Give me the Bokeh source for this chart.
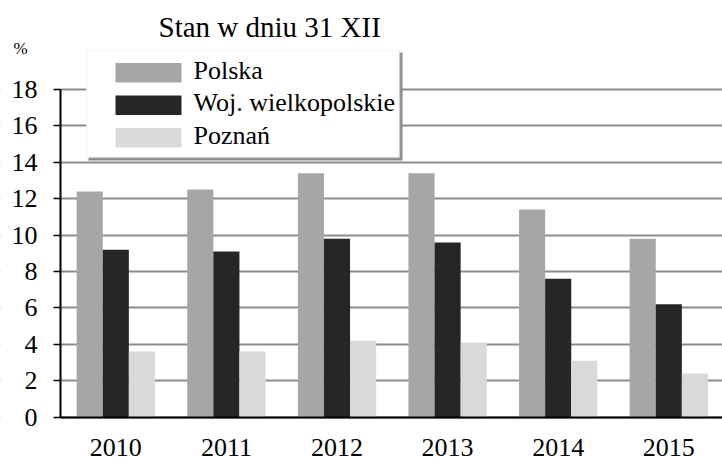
from bokeh.plotting import figure
from bokeh.models import Range1d, FixedTicker, BoxAnnotation, Label
from bokeh.embed import file_html
from bokeh.resources import INLINE

# ---- data ----
years = ["2010", "2011", "2012", "2013", "2014", "2015"]
polska = [12.4, 12.5, 13.4, 13.4, 11.4, 9.8]
wielkopolskie = [9.2, 9.1, 9.8, 9.6, 7.6, 6.2]
poznan = [3.6, 3.6, 4.2, 4.1, 3.1, 2.4]
series_names = ["Polska", "Woj. wielkopolskie", "Poznań"]
y_ticks = [0, 2, 4, 6, 8, 10, 12, 14, 16, 18]
title_text = "Stan w dniu 31 XII"
unit_text = "%"

# ---- styles ----
colors = ["#a6a6a6", "#262626", "#d9d9d9"]
FONT = "Times New Roman"
FONT_G = "serif"
BW = 0.236
W, H = 722, 457
CAT_PX = 110.6      # pixels per category
X0_PX = 60          # canvas x of the value axis
PX_PER_UNIT = 18.2  # pixels per percent
Y0_PX = 416.6       # canvas y of value 0

n = len(years)
centers = [i + 0.5 for i in range(n)]

p = figure(width=W, height=H,
           x_range=Range1d(-X0_PX / CAT_PX, (W - X0_PX) / CAT_PX),
           y_range=Range1d(-(H - Y0_PX) / PX_PER_UNIT, Y0_PX / PX_PER_UNIT),
           output_backend="svg", toolbar_location=None,
           min_border_left=0, min_border_right=0, min_border_top=0,
           min_border_bottom=0)
p.outline_line_color = None
p.background_fill_color = "white"
p.border_fill_color = "white"

series = [polska, wielkopolskie, poznan]
for i, vals in enumerate(series):
    xs = [c + (i - 1) * BW for c in centers]
    p.vbar(x=xs, top=vals, width=BW, fill_color=colors[i], line_color=None)

# cover grid lines left of the value axis
p.add_layout(BoxAnnotation(left=0, right=X0_PX, top=H, bottom=0,
                           left_units="screen", right_units="screen",
                           top_units="screen", bottom_units="screen",
                           fill_color="white", fill_alpha=1, line_color=None,
                           level="underlay"))

# y axis
p.yaxis.fixed_location = 0
p.yaxis.bounds = (y_ticks[0], y_ticks[-1])
p.yaxis.ticker = FixedTicker(ticks=y_ticks)
p.yaxis.major_tick_out = 7
p.yaxis.major_tick_in = 0
p.yaxis.minor_tick_line_color = None
p.yaxis.major_tick_line_width = 1.5
p.yaxis.axis_line_width = 2
p.yaxis.axis_line_color = "black"
p.yaxis.major_label_text_font = FONT_G
p.yaxis.major_label_text_font_size = "26px"
p.yaxis.major_label_text_color = "black"
p.yaxis.major_label_standoff = 16

# x axis
p.xaxis.fixed_location = 0
p.xaxis.bounds = (0, n + 1)
p.xaxis.ticker = FixedTicker(ticks=centers)
p.xaxis.major_label_overrides = {c: y for c, y in zip(centers, years)}
p.xaxis.major_tick_line_color = None
p.xaxis.major_tick_out = 0
p.xaxis.major_tick_in = 0
p.xaxis.minor_tick_line_color = None
p.xaxis.axis_line_width = 2
p.xaxis.axis_line_color = "black"
p.xaxis.major_label_text_font = FONT_G
p.xaxis.major_label_text_font_size = "26px"
p.xaxis.major_label_text_color = "black"
p.xaxis.major_label_standoff = 22

p.xgrid.grid_line_color = None
p.ygrid.ticker = FixedTicker(ticks=y_ticks)
p.ygrid.grid_line_color = "#8c8c8c"
p.ygrid.grid_line_width = 2

# legend box (screen units: x from left, y from bottom)
def sbox(l, r, t, b, **kw):
    return BoxAnnotation(left=l, right=r, top=H - t, bottom=H - b,
                         left_units="screen", right_units="screen",
                         top_units="screen", bottom_units="screen",
                         level="overlay", **kw)

p.add_layout(sbox(88, 402, 52, 160, fill_color="#8a8a8a", fill_alpha=1,
                  line_color=None))
p.add_layout(sbox(86, 399, 50, 157, fill_color="white", fill_alpha=1,
                  line_color="#e6e6e6", line_width=2))

ROW_TOP, ROW_PITCH = 62.5, 32.5
for i, name in enumerate(series_names):
    top = ROW_TOP + i * ROW_PITCH
    p.add_layout(sbox(115, 181, top, top + 19.5, fill_color=colors[i],
                      fill_alpha=1, line_color=None))
    p.add_layout(Label(x=193, y=H - (top + 7.4), x_units="screen",
                       y_units="screen", text=name, text_font=FONT_G,
                       text_font_size="26px", text_color="black",
                       text_baseline="alphabetic", text_align="left",
                       level="overlay"))

title = Label(x=158, y=H - 26, x_units="screen", y_units="screen", text=title_text,
              text_font=FONT, text_font_size="29px", text_color="black",
              text_baseline="alphabetic", text_align="left")
unit = Label(x=13, y=H - 48, x_units="screen", y_units="screen", text=unit_text,
             text_font=FONT, text_font_size="17px", text_color="black",
             text_baseline="alphabetic", text_align="left")
p.add_layout(title)
p.add_layout(unit)

open("out.html", "w").write(file_html(p, INLINE))
